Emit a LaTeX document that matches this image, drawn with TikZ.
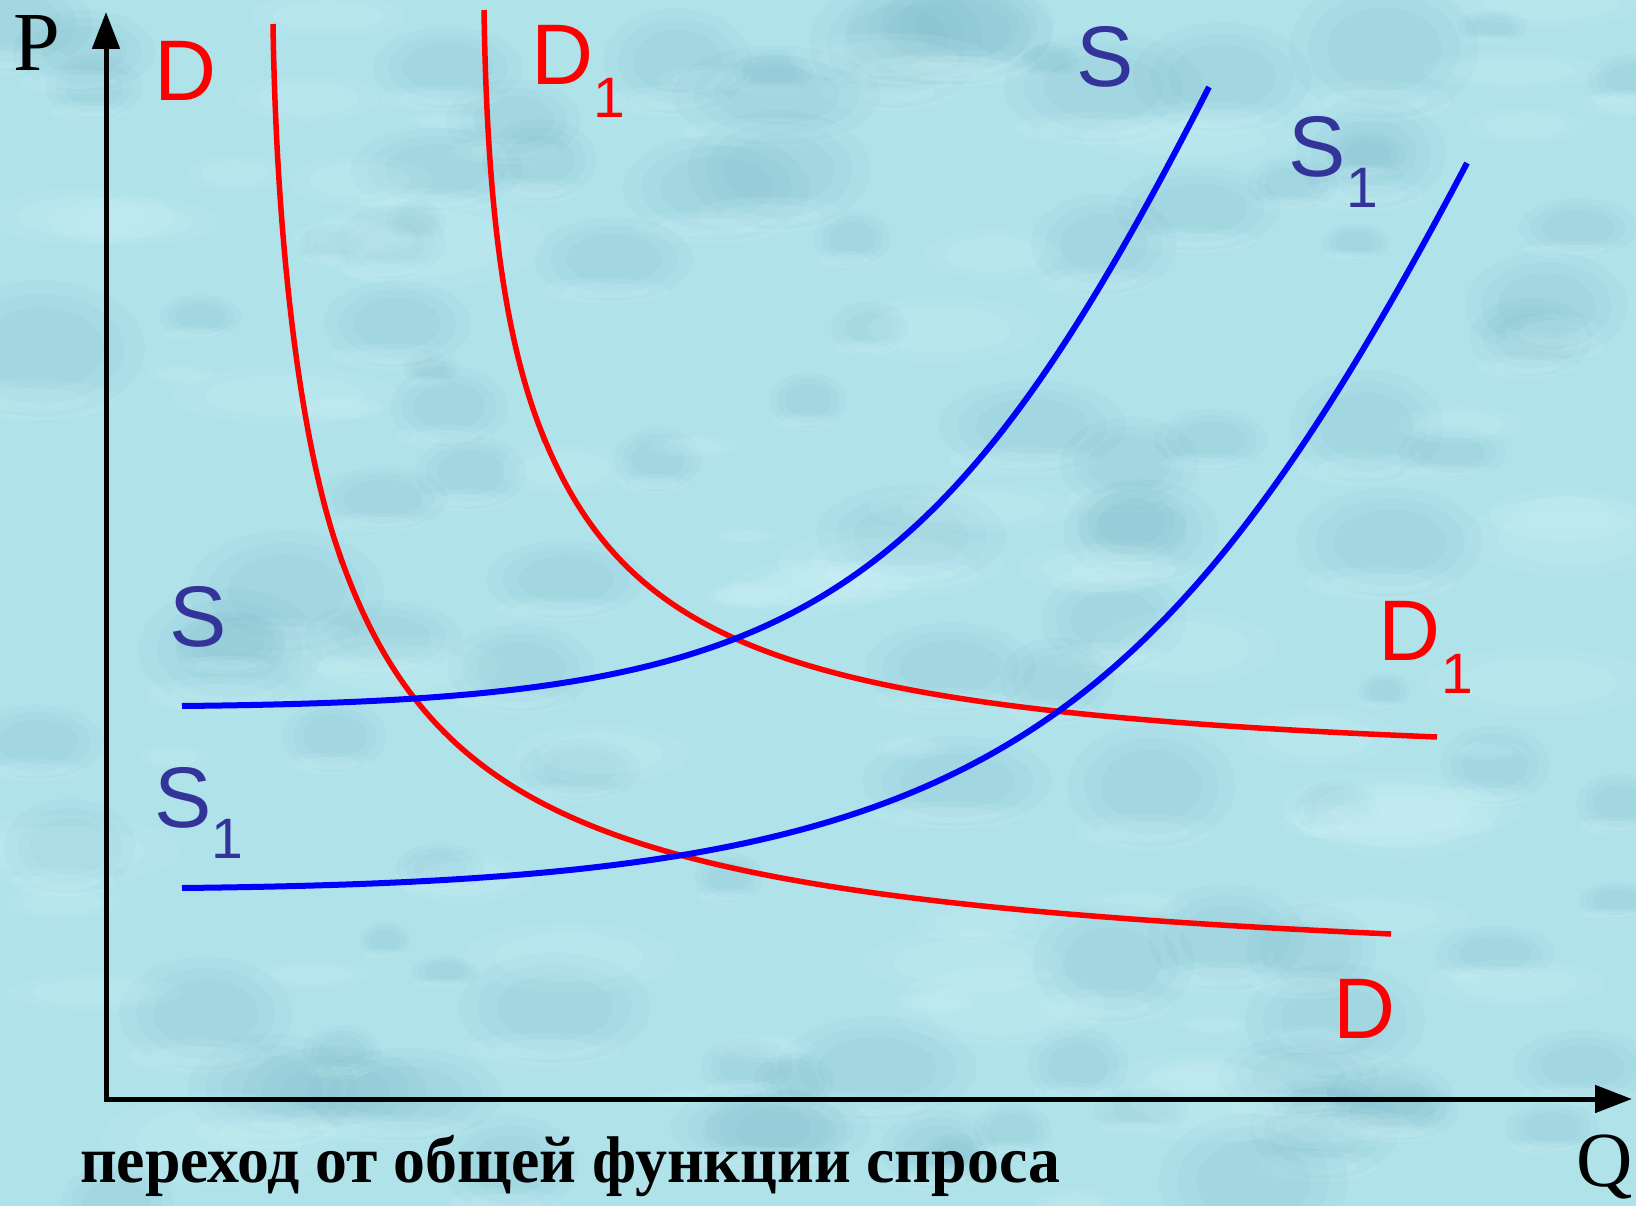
\documentclass[tikz,border=0pt]{standalone}
\usepackage{graphicx}
\usepackage{fontspec}
\setmainfont{Liberation Serif}
\newfontfamily\lsans{Liberation Sans}
\usetikzlibrary{arrows.meta}
\definecolor{bgc}{RGB}{176,226,234}
\definecolor{dropdark}{RGB}{110,175,192}
\definecolor{droplight}{RGB}{218,250,253}
\definecolor{dred}{RGB}{255,0,0}
\definecolor{sblue}{RGB}{0,0,255}
\definecolor{lblue}{RGB}{51,51,153}
\tikzset{
  dcurve/.style={draw=dred, line width=5.5pt},
  scurve/.style={draw=sblue, line width=6pt},
  axisline/.style={line width=5pt, draw=black, line join=miter},
  dlab/.style={text=dred, font=\lsans\fontsize{86}{86}\selectfont, inner sep=0pt, anchor=base west},
  dsub/.style={text=dred, font=\lsans\fontsize{57}{57}\selectfont, inner sep=0pt, anchor=base west},
  slab/.style={text=lblue, font=\lsans\fontsize{86}{86}\selectfont, inner sep=0pt, anchor=base west},
  ssub/.style={text=lblue, font=\lsans\fontsize{57}{57}\selectfont, inner sep=0pt, anchor=base west},
  axlab/.style={text=black, inner sep=0pt, anchor=base west},
  tipA/.tip={Triangle[length=37pt,width=27pt]}
}
\begin{document}
\begin{tikzpicture}[x=1pt,y=-1pt]
\useasboundingbox (0,0) rectangle (1636,1206);
\fill[bgc] (0,0) rectangle (1636,1206);
% soft water-drop texture
\pgfmathsetseed{17}
\foreach \i in {1,...,110}{
  \pgfmathsetmacro\cx{rnd*1636}
  \pgfmathsetmacro\cy{rnd*1206}
  \pgfmathsetmacro\rx{25+rnd*80}
  \pgfmathsetmacro\ry{\rx*(0.45+0.3*rnd)}
  \fill[dropdark, opacity=0.07] (\cx,\cy) ellipse [x radius=\rx*1pt, y radius=\ry*1pt];
  \fill[dropdark, opacity=0.07] (\cx,\cy) ellipse [x radius=0.8*\rx*1pt, y radius=0.8*\ry*1pt];
  \fill[dropdark, opacity=0.07] (\cx,\cy) ellipse [x radius=0.6*\rx*1pt, y radius=0.6*\ry*1pt];
  \fill[droplight, opacity=0.12] (\cx-0.1*\rx,\cy+0.75*\ry) ellipse [x radius=0.8*\rx*1pt, y radius=0.3*\ry*1pt];
  \fill[droplight, opacity=0.12] (\cx-0.1*\rx,\cy+0.75*\ry) ellipse [x radius=0.55*\rx*1pt, y radius=0.18*\ry*1pt];
}
\foreach \i in {1,...,70}{
  \pgfmathsetmacro\cx{rnd*1636}
  \pgfmathsetmacro\cy{rnd*1206}
  \pgfmathsetmacro\rx{30+rnd*90}
  \pgfmathsetmacro\ry{\rx*(0.2+0.2*rnd)}
  \fill[droplight, opacity=0.10] (\cx,\cy) ellipse [x radius=\rx*1pt, y radius=\ry*1pt];
  \fill[droplight, opacity=0.10] (\cx,\cy) ellipse [x radius=0.7*\rx*1pt, y radius=0.7*\ry*1pt];
}
% axes
\draw[axisline, tipA-tipA] (106,12) -- (106,1099) -- (1632,1099);
% demand curves
\draw[dcurve] (273,24) .. controls (276,226) and (297,428) .. (337,547)
  -- plot[domain=337:1391, samples=160, smooth] (\x, {988.5 - 655.43/((\x-188.6)/100)});
\draw[dcurve] (484,10) .. controls (487,210) and (505,337) .. (540,428)
  -- plot[domain=540:1437, samples=160, smooth] (\x, {793.2 - 514.44/((\x-399.2)/100) - 0.0074*(\x-540)});
% supply curves
\draw[scurve] (182,706) .. controls (782,700) and (929,636) .. (1209,87);
\draw[scurve] (182,888) .. controls (947,880) and (1140,784) .. (1467,163);
% labels
\node[dlab] (dA) at (154,101) {D};
\node[dlab] (d1A) at (531,85) {D};
\node[dsub] (d1Asub) at (593,118) {1};
\node[dlab] (d1B) at (1378,660) {D};
\node[dsub] (d1Bsub) at (1441,693) {1};
\node[dlab] (dB) at (1333,1038) {D};
\node[slab] (sA) at (1076,87) {S};
\node[slab] (s1A) at (1288,177) {S};
\node[ssub] (s1Asub) at (1346,208) {1};
\node[slab] (sB) at (169,646) {S};
\node[slab] (s1B) at (154,827) {S};
\node[ssub] (s1Bsub) at (211,858) {1};
\node[axlab, font=\fontsize{84}{84}\selectfont] (P) at (13,71) {P};
\node[axlab, font=\fontsize{78}{78}\selectfont] (Q) at (1576,1186) {Q};
\node[axlab, font=\bfseries\fontsize{66}{66}\selectfont] (cap) at (80,1182) {\resizebox{980pt}{\height}{переход от общей функции спроса}};
\end{tikzpicture}
\end{document}
